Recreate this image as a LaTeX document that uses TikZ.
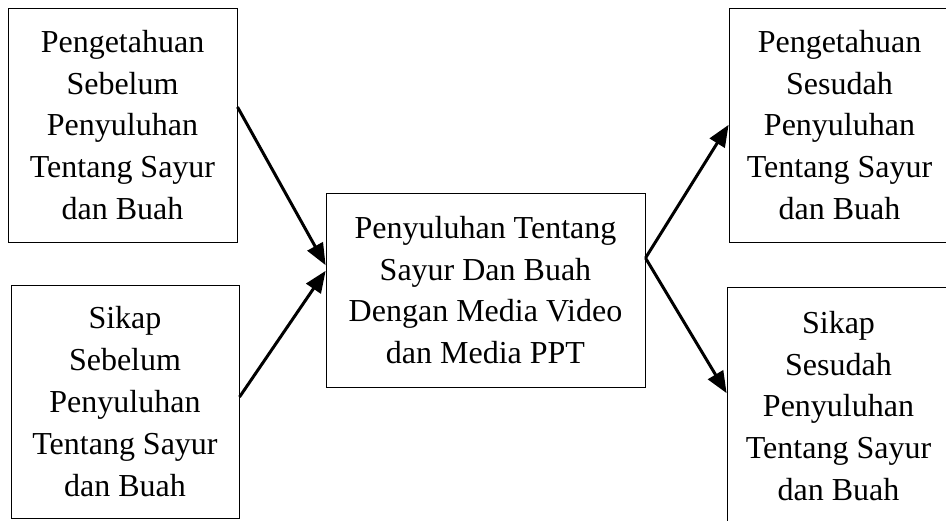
\documentclass[tikz,border=0pt]{standalone}
\usepackage{fontspec}
\setmainfont{Liberation Serif}
\usepackage{tikz}
\usetikzlibrary{arrows}

\tikzset{box/.style={draw=black,line width=0.5pt,inner sep=0pt,align=center,
    font=\fontsize{16}{20.9}\selectfont}}

\begin{document}
\begin{tikzpicture}[x=0.5pt,y=-0.5pt]
\useasboundingbox (0,0) rectangle (946,520);

    \node[box,minimum width=114.5pt,minimum height=117pt] (pengpre) at (122.5,125)
        {Pengetahuan\\Sebelum\\Penyuluhan\\Tentang Sayur\\dan Buah};
    \node[box,minimum width=114pt,minimum height=116.5pt] (sikappre) at (125,401.5)
        {Sikap\\Sebelum\\Penyuluhan\\Tentang Sayur\\dan Buah};

    \node[box,minimum width=159.5pt,minimum height=97pt] (media) at (485.5,290)
        {Penyuluhan Tentang\\Sayur Dan Buah\\Dengan Media Video\\dan Media PPT};

    \node[box,minimum width=110.5pt,minimum height=117pt] (pengpost) at (839.5,125)
        {Pengetahuan\\Sesudah\\Penyuluhan\\Tentang Sayur\\dan Buah};
    \node[box,minimum width=111.5pt,minimum height=119pt] (sikappost) at (838.5,406)
        {Sikap\\Sesudah\\Penyuluhan\\Tentang Sayur\\dan Buah};

\begin{scope}[>=triangle 45,line width=1.5pt]
    \draw[->] ([yshift=9pt]pengpre.east) -- ([yshift=12.5pt]media.west);
    \draw[->] ([yshift=2.25pt]sikappre.east) -- ([yshift=9.5pt]media.west);
    \draw[->] ([yshift=16pt]media.east) -- (pengpost.west);
    \draw[->] ([yshift=16pt]media.east) -- ([yshift=6.5pt]sikappost.west);
\end{scope}
\end{tikzpicture}
\end{document}
